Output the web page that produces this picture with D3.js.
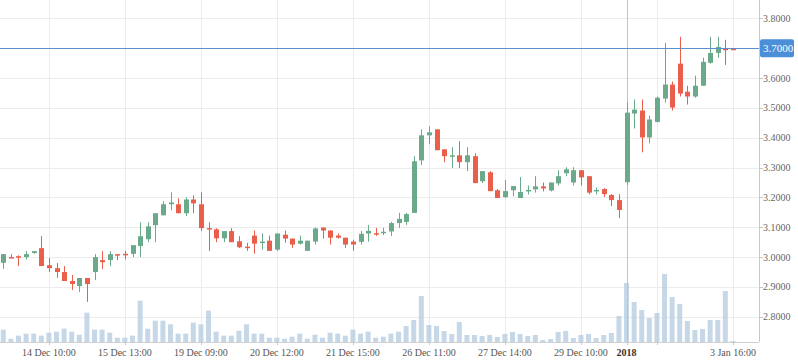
<!DOCTYPE html>
<html>
<head>
<meta charset="utf-8">
<script src="https://cdn.jsdelivr.net/npm/d3@7"></script>
<style>
  body { margin: 0; background: #fff; }
  text { font-family: "Liberation Serif", "Times New Roman", serif; }
</style>
</head>
<body>
<div id="chart"></div>
<script>
// OHLC per candle (index 0..96)
const open = [2.981,3.000,3.003,3.000,3.014,3.030,2.973,2.963,2.950,2.920,2.903,2.930,2.950,2.990,2.990,3.010,3.011,3.011,3.037,3.060,
  3.107,3.140,3.177,3.177,3.147,3.193,3.177,3.097,3.093,3.063,3.087,3.053,3.035,3.072,3.049,3.055,3.025,3.075,3.062,3.045,
  3.021,3.052,3.099,3.089,3.072,3.065,3.052,3.051,3.079,3.080,3.083,3.086,3.114,3.118,3.148,3.324,3.408,3.428,3.361,3.338,
  3.341,3.318,3.338,3.254,3.284,3.224,3.201,3.224,3.198,3.223,3.227,3.237,3.223,3.247,3.281,3.250,3.291,3.271,3.223,3.228,
  3.208,3.191,3.251,3.481,3.491,3.401,3.453,3.531,3.578,3.648,3.554,3.538,3.574,3.651,3.684,3.698,3.698];
const high = [3.010,3.010,3.006,3.020,3.020,3.070,2.997,2.980,2.970,2.940,2.930,2.930,3.010,3.020,3.020,3.010,3.021,3.040,3.117,3.117,
  3.147,3.187,3.217,3.197,3.200,3.207,3.217,3.117,3.097,3.087,3.097,3.070,3.048,3.089,3.079,3.072,3.079,3.089,3.062,3.072,
  3.055,3.099,3.099,3.089,3.079,3.065,3.058,3.088,3.108,3.098,3.098,3.118,3.148,3.148,3.338,3.428,3.438,3.428,3.361,3.368,
  3.388,3.368,3.348,3.288,3.288,3.228,3.258,3.238,3.268,3.240,3.271,3.250,3.250,3.291,3.301,3.301,3.291,3.271,3.233,3.231,
  3.211,3.211,3.518,3.528,3.528,3.474,3.538,3.718,3.588,3.738,3.574,3.608,3.668,3.738,3.738,3.728,3.698];
const low = [2.961,2.997,2.970,2.992,3.011,2.970,2.950,2.930,2.920,2.890,2.883,2.850,2.923,2.960,2.970,2.990,2.992,3.000,3.000,3.050,
  3.050,3.140,3.157,3.147,3.137,3.147,3.087,3.020,3.050,3.050,3.050,3.030,3.021,3.011,3.025,3.021,3.021,3.048,3.031,3.042,
  3.021,3.042,3.062,3.042,3.062,3.031,3.021,3.042,3.052,3.071,3.074,3.071,3.098,3.108,3.148,3.308,3.378,3.358,3.318,3.298,
  3.298,3.288,3.248,3.248,3.221,3.198,3.198,3.204,3.198,3.210,3.216,3.220,3.220,3.240,3.271,3.240,3.240,3.210,3.210,3.201,
  3.171,3.131,3.241,3.431,3.351,3.381,3.451,3.518,3.491,3.538,3.511,3.534,3.574,3.648,3.668,3.644,3.696];
const close = [3.010,2.997,3.000,3.010,3.020,2.970,2.963,2.950,2.920,2.910,2.930,2.910,3.000,2.983,3.010,3.008,3.009,3.040,3.070,3.103,
  3.147,3.177,3.183,3.147,3.193,3.180,3.097,3.095,3.063,3.087,3.050,3.033,3.033,3.045,3.052,3.021,3.079,3.062,3.042,3.055,
  3.055,3.096,3.089,3.065,3.065,3.042,3.042,3.078,3.088,3.078,3.085,3.114,3.128,3.144,3.321,3.408,3.418,3.358,3.338,3.341,
  3.318,3.341,3.248,3.288,3.221,3.198,3.221,3.238,3.218,3.225,3.237,3.230,3.250,3.271,3.294,3.291,3.267,3.216,3.225,3.211,
  3.191,3.158,3.484,3.494,3.401,3.461,3.534,3.578,3.501,3.548,3.538,3.574,3.654,3.684,3.704,3.696,3.696];
const volume = [37,10,19,25,25,19,28,31,40,31,22,88,37,37,28,13,13,19,124,40,
  64,64,53,25,25,58,53,94,31,19,19,34,53,25,25,13,13,10,16,25,
  10,22,13,28,25,19,37,25,31,13,16,25,31,48,66,138,51,48,33,24,
  60,21,21,18,21,15,24,30,24,18,21,6,9,30,33,12,21,24,12,21,
  27,78,177,120,96,72,87,204,135,114,63,36,39,66,66,153,3];

// x axis ticks (candle index -> label), the one at 86 is hidden behind "2018"
const tickIndex = [6, 16, 26, 36, 46, 56, 66, 76, 86, 96];
const tickLabels = ['14 Dec 10:00', '15 Dec 13:00', '19 Dec 09:00', '20 Dec 12:00', '21 Dec 15:00',
  '26 Dec 11:00', '27 Dec 14:00', '29 Dec 10:00', '', '3 Jan 16:00'];
const yearIndex = 82;
const yearLabel = '2018';
const priceTicks = [2.8, 2.9, 3.0, 3.1, 3.2, 3.3, 3.4, 3.5, 3.6, 3.7, 3.8];
const lastPrice = 3.70;

const W = 798, H = 363;
const plotRight = 759, plotBottom = 342;
const green = '#6aa98a', red = '#ea5f4c';

const data = open.map((o, i) => ({ i, o, h: high[i], l: low[i], c: close[i], v: volume[i] }));

const svg = d3.select('#chart').append('svg')
    .attr('width', W)
    .attr('height', H);

const x = d3.scaleLinear().domain([-0.434, 99.43]).range([0, plotRight]);
const y = d3.scaleLinear().domain([2.7156, 3.8613]).range([plotBottom, 0]);
const yVol = d3.scaleLinear().domain([0, d3.max(volume)]).range([plotBottom, plotBottom - 68]);

// grid
svg.append('g')
    .selectAll('line')
    .data(priceTicks)
    .enter().append('line')
    .attr('x1', 0).attr('x2', plotRight)
    .attr('y1', d => Math.round(y(d)) + 0.5)
    .attr('y2', d => Math.round(y(d)) + 0.5)
    .attr('stroke', '#ececec');

svg.append('g')
    .selectAll('line')
    .data(tickIndex)
    .enter().append('line')
    .attr('x1', d => Math.round(x(d)) + 0.5)
    .attr('x2', d => Math.round(x(d)) + 0.5)
    .attr('y1', 0).attr('y2', plotBottom)
    .attr('stroke', '#ececec');

// volume bars
svg.append('g')
    .selectAll('rect')
    .data(data)
    .enter().append('rect')
    .attr('x', d => x(d.i) - 2.5)
    .attr('width', 5)
    .attr('y', d => yVol(d.v))
    .attr('height', d => plotBottom - yVol(d.v))
    .attr('fill', '#b3c9df')
    .attr('opacity', 0.75);

// year marker
svg.append('line')
    .attr('x1', Math.round(x(yearIndex)) + 0.5)
    .attr('x2', Math.round(x(yearIndex)) + 0.5)
    .attr('y1', 0).attr('y2', plotBottom + 3)
    .attr('stroke', '#c4c4c4');

// candles
const candle = svg.append('g')
    .selectAll('g')
    .data(data)
    .enter().append('g');

candle.append('line')
    .attr('x1', d => Math.round(x(d.i)) + 0.5)
    .attr('x2', d => Math.round(x(d.i)) + 0.5)
    .attr('y1', d => y(d.h))
    .attr('y2', d => y(d.l))
    .attr('stroke', d => d.c >= d.o ? green : red)
    .attr('stroke-width', 1);

candle.append('rect')
    .attr('x', d => Math.round(x(d.i)) - 2)
    .attr('width', 5)
    .attr('y', d => y(Math.max(d.o, d.c)))
    .attr('height', d => Math.max(1.5, Math.abs(y(d.o) - y(d.c))))
    .attr('fill', d => d.c >= d.o ? green : red);

// current price line
svg.append('line')
    .attr('x1', 0).attr('x2', plotRight)
    .attr('y1', Math.round(y(lastPrice)) + 0.5)
    .attr('y2', Math.round(y(lastPrice)) + 0.5)
    .attr('stroke', '#5a90cc');

// axes
svg.append('line')
    .attr('x1', plotRight + 0.5).attr('x2', plotRight + 0.5)
    .attr('y1', 0).attr('y2', plotBottom)
    .attr('stroke', '#c8c8c8');
svg.append('line')
    .attr('x1', 0).attr('x2', plotRight)
    .attr('y1', plotBottom + 0.5).attr('y2', plotBottom + 0.5)
    .attr('stroke', '#d0d0d0');

const yAxis = svg.append('g');
yAxis.selectAll('line')
    .data(priceTicks)
    .enter().append('line')
    .attr('x1', plotRight).attr('x2', plotRight + 4)
    .attr('y1', d => Math.round(y(d)) + 0.5)
    .attr('y2', d => Math.round(y(d)) + 0.5)
    .attr('stroke', '#c8c8c8');
// the tick at the last price is covered by the badge
yAxis.selectAll('text')
    .data(priceTicks.filter(d => Math.abs(d - lastPrice) > 1e-9))
    .enter().append('text')
    .attr('x', plotRight + 4)
    .attr('y', d => y(d))
    .attr('dy', '0.35em')
    .style('font-size', '10px')
    .style('fill', '#666')
    .text(d => d3.format('.4f')(d));

// last price badge
svg.append('rect')
    .attr('x', plotRight + 1)
    .attr('y', y(lastPrice) - 9)
    .attr('width', 34)
    .attr('height', 18)
    .attr('rx', 2)
    .attr('fill', '#4a8fd8');
svg.append('text')
    .attr('x', plotRight + 4)
    .attr('y', y(lastPrice))
    .attr('dy', '0.35em')
    .style('font-size', '11px')
    .style('fill', '#fff')
    .text(d3.format('.4f')(lastPrice));

const xAxis = svg.append('g');
xAxis.selectAll('line')
    .data(tickIndex)
    .enter().append('line')
    .attr('x1', d => Math.round(x(d)) + 0.5)
    .attr('x2', d => Math.round(x(d)) + 0.5)
    .attr('y1', plotBottom).attr('y2', plotBottom + 3)
    .attr('stroke', '#c8c8c8');
xAxis.selectAll('text')
    .data(tickIndex)
    .enter().append('text')
    .attr('x', d => x(d))
    .attr('y', 356)
    .attr('text-anchor', 'middle')
    .style('font-size', '10px')
    .style('fill', '#555')
    .text((d, k) => tickLabels[k]);

svg.append('text')
    .attr('x', x(yearIndex))
    .attr('y', 356)
    .attr('text-anchor', 'middle')
    .style('font-size', '10px')
    .style('font-weight', 'bold')
    .style('fill', '#333')
    .text(yearLabel);
</script>
</body>
</html>
